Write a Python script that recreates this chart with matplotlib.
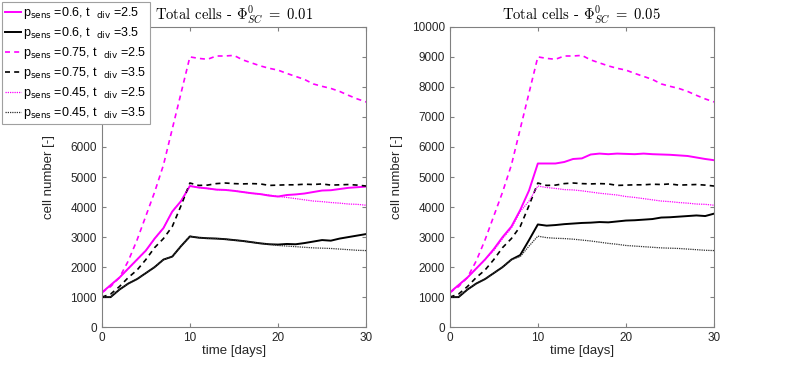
import numpy as np
import matplotlib.pyplot as plt

plt.rcParams['font.family'] = ['Liberation Sans', 'DejaVu Sans']

days = np.arange(31)

# panel 1 (Phi_SC^0 = 0.01)
left_p06_t25 = [1150, 1400, 1650, 1950, 2250, 2550, 2950, 3300, 3850, 4200, 4700,
                4650, 4620, 4580, 4570, 4540, 4500, 4460, 4430, 4380, 4350, 4400,
                4420, 4450, 4500, 4550, 4560, 4600, 4640, 4660, 4680]
left_p06_t35 = [1000, 1000, 1250, 1450, 1600, 1800, 2000, 2250, 2350, 2700, 3020,
                2980, 2960, 2950, 2930, 2900, 2870, 2830, 2790, 2760, 2750, 2770,
                2760, 2800, 2850, 2900, 2880, 2950, 3000, 3050, 3100]
# panel 2 (Phi_SC^0 = 0.05)
right_p06_t25 = [1150, 1400, 1650, 1950, 2250, 2600, 3000, 3350, 3900, 4550, 5450,
                 5450, 5450, 5500, 5600, 5620, 5750, 5780, 5760, 5780, 5770, 5760,
                 5780, 5760, 5750, 5740, 5720, 5700, 5650, 5600, 5560]
right_p06_t35 = [1000, 1000, 1250, 1450, 1600, 1800, 2000, 2250, 2400, 2900, 3420,
                 3380, 3400, 3430, 3450, 3470, 3480, 3500, 3490, 3520, 3550, 3560,
                 3580, 3600, 3650, 3660, 3680, 3700, 3720, 3700, 3780]

# series that look the same in both panels
p075_t25 = [1150, 1350, 1650, 2200, 2900, 3700, 4500, 5400, 6600, 7800, 9000,
            8950, 8920, 9030, 9030, 9050, 8900, 8800, 8700, 8620, 8560, 8450,
            8350, 8250, 8100, 8020, 7950, 7850, 7720, 7600, 7500]
p075_t35 = [1000, 1100, 1350, 1650, 1900, 2250, 2650, 2950, 3350, 4050, 4800,
            4720, 4730, 4780, 4800, 4780, 4770, 4780, 4770, 4720, 4730, 4740,
            4740, 4760, 4750, 4770, 4730, 4740, 4750, 4730, 4700]
p045_t25 = [1150, 1400, 1650, 1950, 2250, 2550, 2950, 3300, 3850, 4200, 4700,
            4650, 4620, 4580, 4570, 4540, 4500, 4460, 4430, 4400, 4350, 4320,
            4280, 4240, 4200, 4180, 4150, 4130, 4100, 4090, 4060]
p045_t35 = [1000, 1000, 1250, 1450, 1600, 1800, 2000, 2250, 2350, 2700, 3030,
            2980, 2960, 2950, 2930, 2900, 2870, 2830, 2790, 2760, 2720, 2700,
            2680, 2660, 2640, 2630, 2620, 2600, 2580, 2560, 2550]

labels = [r'p$_{\rm sens}$ =0.6, t  $_{\rm div}$ =2.5',
          r'p$_{\rm sens}$ =0.6, t  $_{\rm div}$ =3.5',
          r'p$_{\rm sens}$ =0.75, t  $_{\rm div}$ =2.5',
          r'p$_{\rm sens}$ =0.75, t  $_{\rm div}$ =3.5',
          r'p$_{\rm sens}$ =0.45, t  $_{\rm div}$ =2.5',
          r'p$_{\rm sens}$ =0.45, t  $_{\rm div}$ =3.5']
titles = [r'$\text{Total cells - }\Phi^0_{SC}\ =\ 0.01$',
          r'$\text{Total cells - }\Phi^0_{SC}\ =\ 0.05$']

mag = '#ff00ff'
styles = [dict(color=mag, ls='-', lw=1.4),
          dict(color='k', ls='-', lw=1.4),
          dict(color=mag, ls=(0, (3, 2.5)), lw=1.2),
          dict(color='k', ls=(0, (3, 2.5)), lw=1.2),
          dict(color=mag, ls=(0, (1, 0.8)), lw=0.9),
          dict(color='#303030', ls=(0, (1, 0.8)), lw=0.9)]

fig = plt.figure(figsize=(7.89, 3.68), dpi=100)
ax1 = fig.add_axes([0.129, 0.111, 0.335, 0.816])
ax2 = fig.add_axes([0.570, 0.111, 0.335, 0.816])

panels = [(ax1, [left_p06_t25, left_p06_t35, p075_t25, p075_t35, p045_t25, p045_t35]),
          (ax2, [right_p06_t25, right_p06_t35, p075_t25, p075_t35, p045_t25, p045_t35])]

for i, (ax, series) in enumerate(panels):
    for ys, st, lab in zip(series, styles, labels):
        ax.plot(days, ys, label=lab, **st)
    ax.set_xlim(0, 30)
    ax.set_ylim(0, 10000)
    ax.set_xticks([0, 10, 20, 30])
    ax.set_yticks(np.arange(0, 10001, 1000))
    ax.tick_params(direction='in', top=True, right=True, labelsize=8.5,
                   colors='#808080', labelcolor='#262626', length=3)
    for s in ax.spines.values():
        s.set_color('#808080')
        s.set_linewidth(0.8)
    ax.set_xlabel('time [days]', fontsize=9.5, color='#262626', labelpad=1)
    ax.set_ylabel('cell number [-]', fontsize=9.5, color='#262626', labelpad=6)
    ax.set_title(titles[i], fontsize=10.5, math_fontfamily='cm', pad=5)

leg = ax1.legend(loc='upper left', bbox_to_anchor=(2 / 789, 1 - 2 / 368),
                 bbox_transform=fig.transFigure, fontsize=9, frameon=True,
                 fancybox=False, framealpha=1, edgecolor='#a0a0a0',
                 handlelength=1.3, handletextpad=0.15, borderpad=0.25,
                 labelspacing=0.32, borderaxespad=0)
leg.get_frame().set_linewidth(0.8)

fig.savefig('out.png', dpi=100)
